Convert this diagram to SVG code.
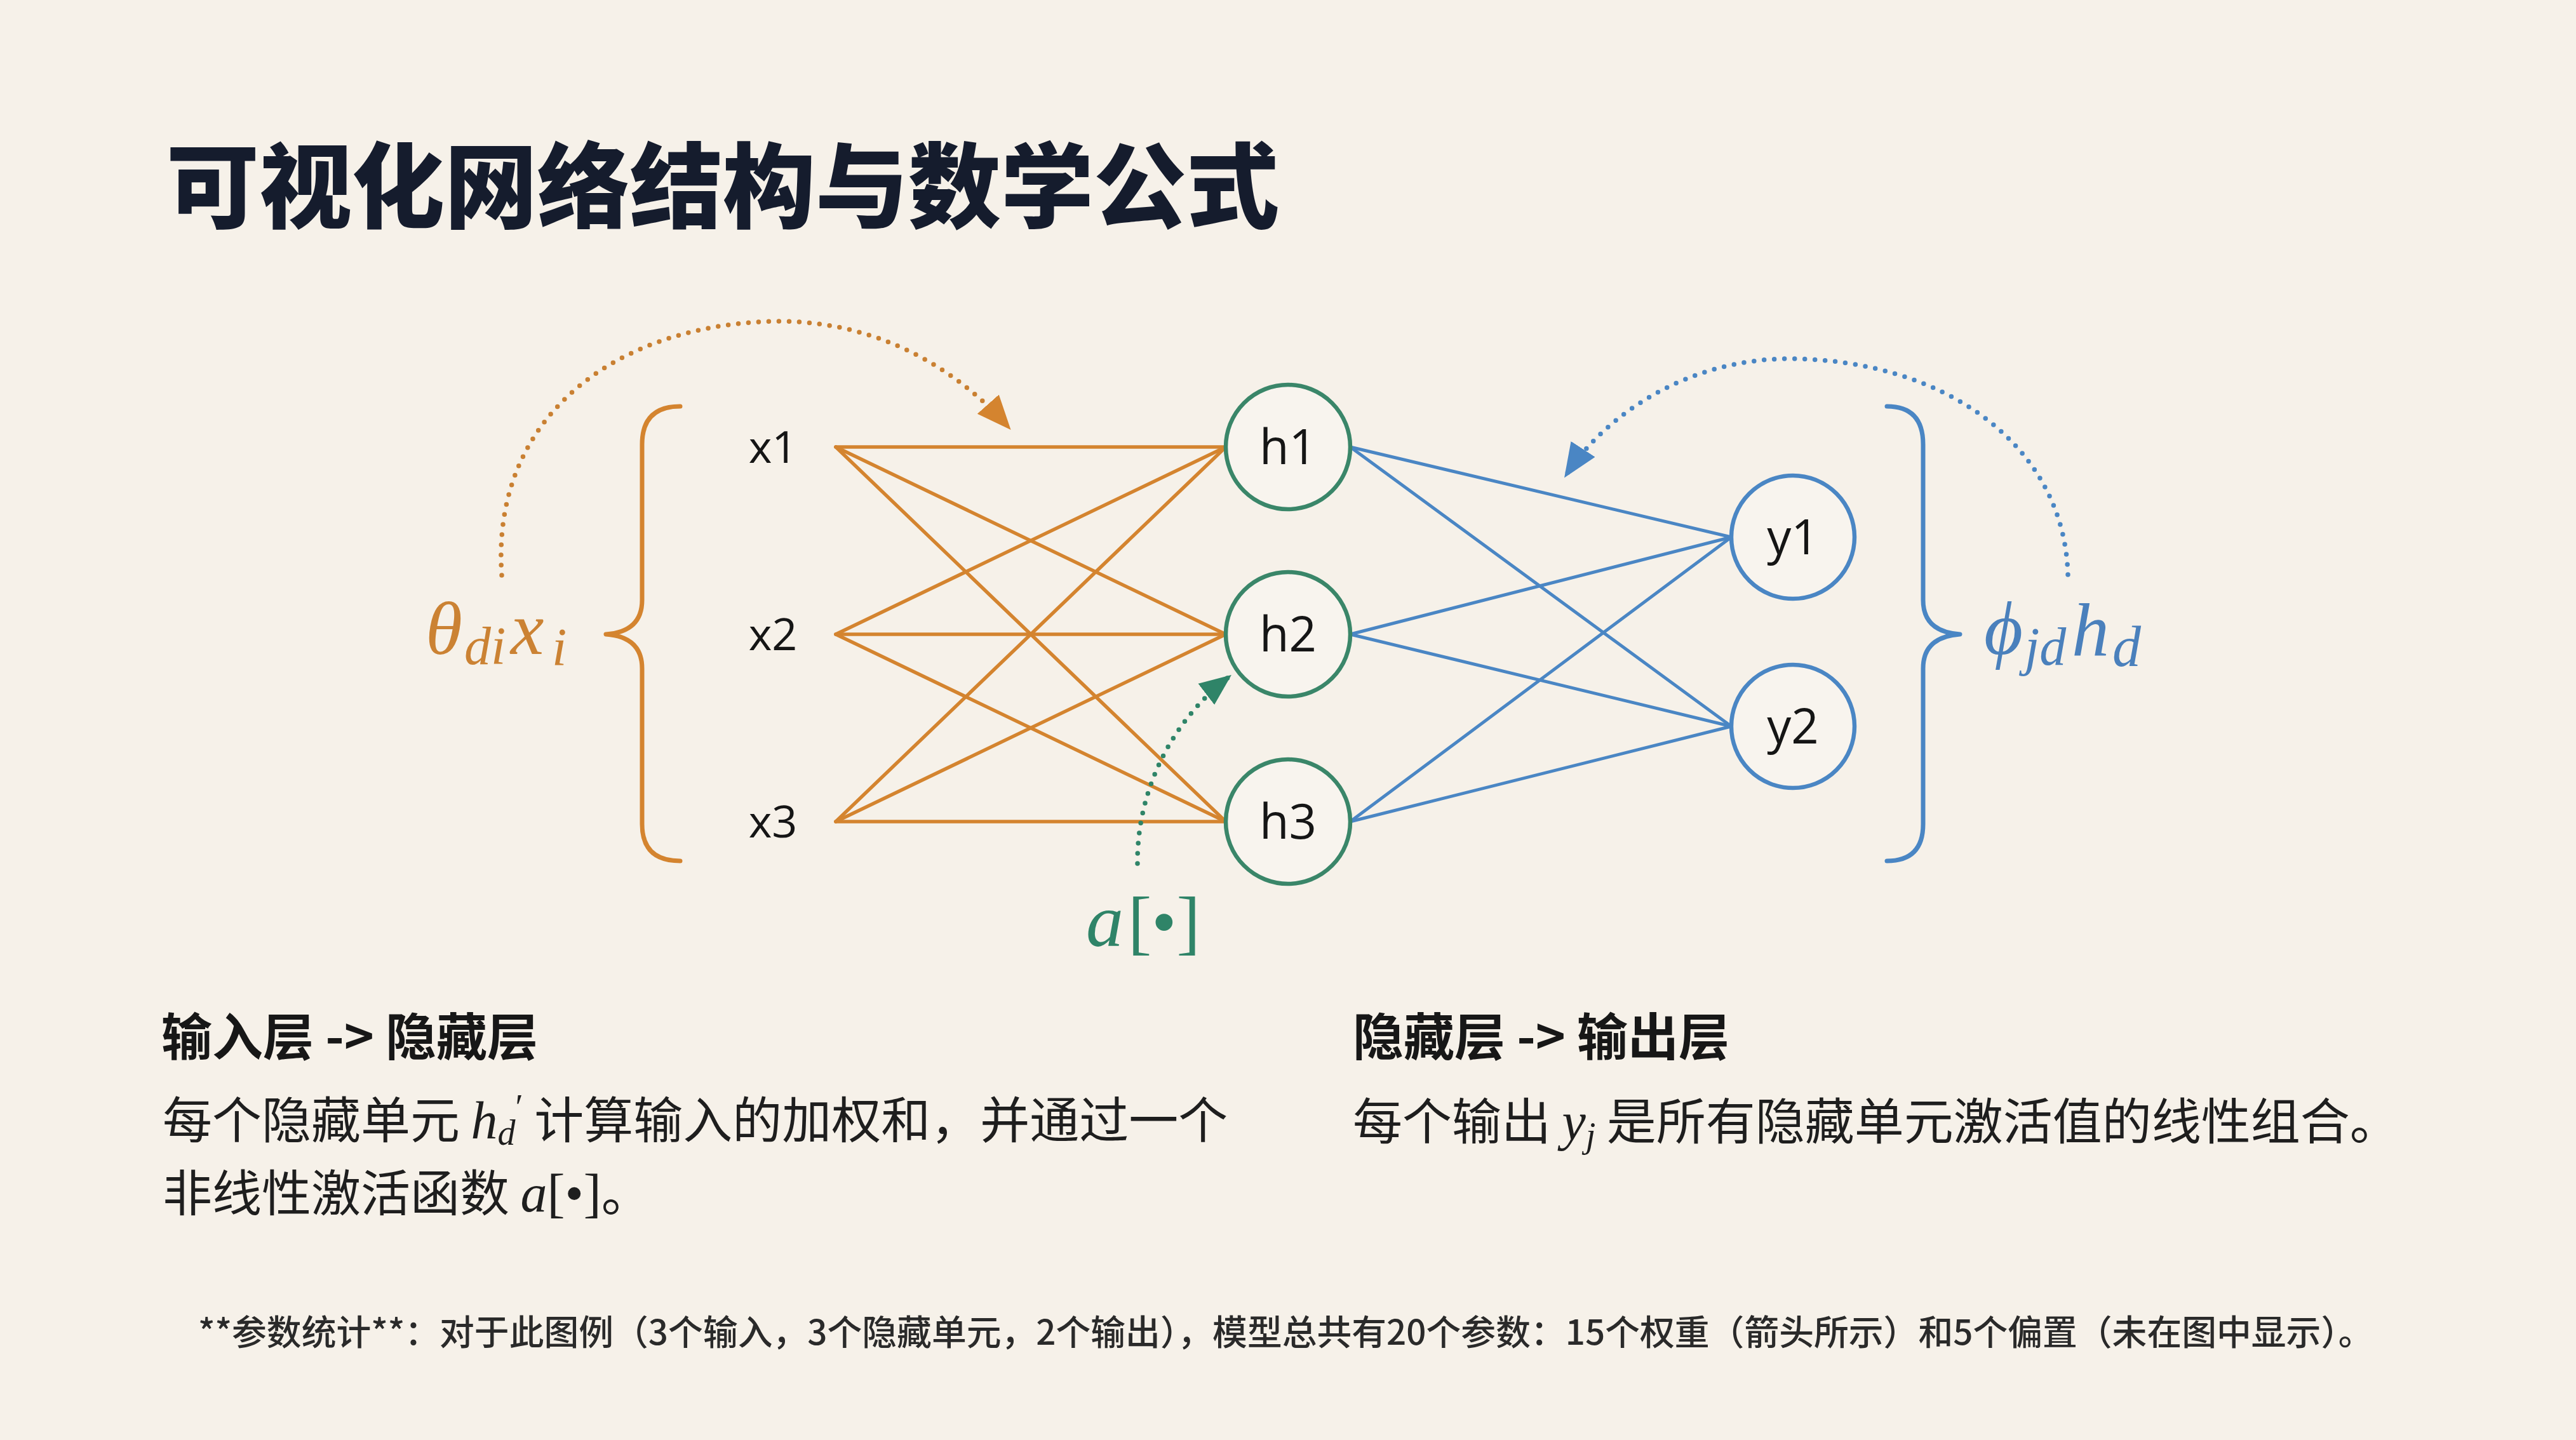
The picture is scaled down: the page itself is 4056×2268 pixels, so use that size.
<svg xmlns="http://www.w3.org/2000/svg" width="4056" height="2268" viewBox="0 0 4056 2268">
  <defs>
    <style>
      .cjk { font-family: "Noto Sans CJK SC", "Noto Sans", sans-serif; }
      .title { font-size: 146px; font-weight: 900; fill: #151c2d; }
      .head { font-size: 80px; font-weight: 700; fill: #171717; }
      .body { font-size: 78px; font-weight: 400; fill: #1e1e1e; }
      .foot { font-size: 54.8px; font-weight: 500; fill: #2a2a2a; }
      .math { font-family: "Liberation Serif", "DejaVu Serif", serif; font-style: italic; }
      .mup { font-family: "Liberation Serif", "DejaVu Serif", serif; font-style: normal; }
      .lbl { font-family: "Open Sans", "Noto Sans", sans-serif; fill: #151515; text-anchor: middle; }
      .xl { font-size: 70px; }
      .nl { font-size: 76px; }
      .wO { stroke: #D4842F; stroke-width: 5.5; fill: none; stroke-linecap: round; }
      .wB { stroke: #4A86C4; stroke-width: 5; fill: none; stroke-linecap: round; }
      .hid { fill: #F8F4EE; stroke: #3A8669; stroke-width: 6.5; }
      .out { fill: #F8F4EE; stroke: #4A86C4; stroke-width: 6.5; }
      .brace { fill: none; stroke-width: 7; stroke-linecap: round; stroke-linejoin: round; }
      .dot { fill: none; stroke-width: 7.5; stroke-linecap: round; stroke-dasharray: 0 16; }
    </style>
    <marker id="arrO" viewBox="0 0 10 10" refX="9" refY="5" markerWidth="54" markerHeight="54" markerUnits="userSpaceOnUse" orient="auto">
      <path d="M0,0.8 L10,5 L0,9.2 Z" fill="#D4842F"/>
    </marker>
    <marker id="arrB" viewBox="0 0 10 10" refX="9" refY="5" markerWidth="54" markerHeight="54" markerUnits="userSpaceOnUse" orient="auto">
      <path d="M0,0.8 L10,5 L0,9.2 Z" fill="#4A86C4"/>
    </marker>
    <marker id="arrG" viewBox="0 0 10 10" refX="9" refY="5" markerWidth="50" markerHeight="50" markerUnits="userSpaceOnUse" orient="auto">
      <path d="M0,0.8 L10,5 L0,9.2 Z" fill="#2F8468"/>
    </marker>
  </defs>

  <rect x="0" y="0" width="4056" height="2268" fill="#F6F1E9"/>

  <text id="title" class="cjk title" x="262" y="347">可视化网络结构与数学公式</text>

  <g id="connectors">
    <g id="input-hidden">
      <line class="wO" x1="1316" y1="704" x2="1930" y2="704"/>
      <line class="wO" x1="1316" y1="704" x2="1930" y2="999"/>
      <line class="wO" x1="1316" y1="704" x2="1930" y2="1294"/>
      <line class="wO" x1="1316" y1="999" x2="1930" y2="704"/>
      <line class="wO" x1="1316" y1="999" x2="1930" y2="999"/>
      <line class="wO" x1="1316" y1="999" x2="1930" y2="1294"/>
      <line class="wO" x1="1316" y1="1294" x2="1930" y2="704"/>
      <line class="wO" x1="1316" y1="1294" x2="1930" y2="999"/>
      <line class="wO" x1="1316" y1="1294" x2="1930" y2="1294"/>
    </g>
    <g id="hidden-output">
      <line class="wB" x1="2126" y1="704" x2="2726" y2="846"/>
      <line class="wB" x1="2126" y1="704" x2="2726" y2="1144"/>
      <line class="wB" x1="2126" y1="999" x2="2726" y2="846"/>
      <line class="wB" x1="2126" y1="999" x2="2726" y2="1144"/>
      <line class="wB" x1="2126" y1="1294" x2="2726" y2="846"/>
      <line class="wB" x1="2126" y1="1294" x2="2726" y2="1144"/>
    </g>
    <path id="arc-theta" class="dot" stroke="#C98032" d="M 790 906 C 772 650 980 506 1232 506 C 1390 508 1510 585 1588 673" marker-end="url(#arrO)"/>
    <path id="arc-phi" class="dot" stroke="#4A86C4" d="M 3256 905 C 3250 700 3060 565 2815 565 C 2660 566 2530 650 2466 748" marker-end="url(#arrB)"/>
    <path id="arc-act" class="dot" stroke="#2F8468" d="M 1791 1360 C 1790 1245 1845 1135 1935 1066" marker-end="url(#arrG)"/>
  </g>

  <g id="brace-left">
    <path class="brace" stroke="#D4842F" d="M 1071 640 Q 1011 640 1011 700 L 1011 945 Q 1011 995 954 999 Q 1011 1003 1011 1053 L 1011 1298 Q 1011 1356 1071 1356"/>
  </g>
  <g id="brace-right">
    <path class="brace" stroke="#4A86C4" d="M 2971 640 Q 3028 640 3028 700 L 3028 945 Q 3028 995 3086 999 Q 3028 1003 3028 1053 L 3028 1298 Q 3028 1356 2971 1356"/>
  </g>

  <g id="label-theta" fill="#CB8233">
    <text class="math" font-size="118" x="670" y="1030">θ</text>
    <text class="math" font-size="84" x="731" y="1046">di</text>
    <text class="math" font-size="118" x="804" y="1030">x</text>
    <text class="math" font-size="84" x="869" y="1048">i</text>
  </g>
  <g id="label-phi" fill="#4A80BC">
    <text class="math" font-size="118" x="3124" y="1030">ϕ</text>
    <text class="math" font-size="84" x="3188" y="1047">jd</text>
    <text class="math" font-size="118" x="3262" y="1032">h</text>
    <text class="math" font-size="90" x="3326" y="1049">d</text>
  </g>
  <g id="label-act" fill="#2F8468">
    <text class="math" font-size="118" x="1710" y="1490">a</text>
    <text class="mup" font-size="112" x="1776" y="1490">[•]</text>
  </g>

  <g id="x1"><text class="lbl xl" x="1217" y="729">x1</text></g>
  <g id="x2"><text class="lbl xl" x="1217" y="1024">x2</text></g>
  <g id="x3"><text class="lbl xl" x="1217" y="1319">x3</text></g>

  <g id="h1"><circle class="hid" cx="2028" cy="704" r="98"/><text class="lbl nl" x="2028" y="731">h1</text></g>
  <g id="h2"><circle class="hid" cx="2028" cy="999" r="98"/><text class="lbl nl" x="2028" y="1026">h2</text></g>
  <g id="h3"><circle class="hid" cx="2028" cy="1294" r="98"/><text class="lbl nl" x="2028" y="1321">h3</text></g>

  <g id="y1"><circle class="out" cx="2823" cy="846" r="97"/><text class="lbl nl" x="2823" y="873">y1</text></g>
  <g id="y2"><circle class="out" cx="2823" cy="1144" r="97"/><text class="lbl nl" x="2823" y="1171">y2</text></g>

  <g id="text-left">
    <text class="cjk head" x="254" y="1662">输入层 -&gt; 隐藏层</text>
    <text class="cjk body" x="256" y="1793">每个隐藏单元 <tspan class="math" font-size="84">h</tspan><tspan class="math" font-size="56" dy="10">d</tspan><tspan class="mup" font-size="56" dy="-40">′</tspan><tspan dy="30"> 计算输入的加权和，并通过一个</tspan></text>
    <text class="cjk body" x="256" y="1908">非线性激活函数 <tspan class="math" font-size="84">a</tspan><tspan class="mup" font-size="84">[•]</tspan>。</text>
  </g>
  <g id="text-right">
    <text class="cjk head" x="2130" y="1662">隐藏层 -&gt; 输出层</text>
    <text class="cjk body" x="2130" y="1795">每个输出 <tspan class="math" font-size="84">y</tspan><tspan class="math" font-size="56" dy="12">j</tspan><tspan dy="-12"> 是所有隐藏单元激活值的线性组合。</tspan></text>
  </g>

  <g id="footer">
    <text class="cjk foot" x="312" y="2118">**参数统计**：对于此图例（3个输入，3个隐藏单元，2个输出），模型总共有20个参数：15个权重（箭头所示）和5个偏置（未在图中显示）。</text>
  </g>
</svg>
